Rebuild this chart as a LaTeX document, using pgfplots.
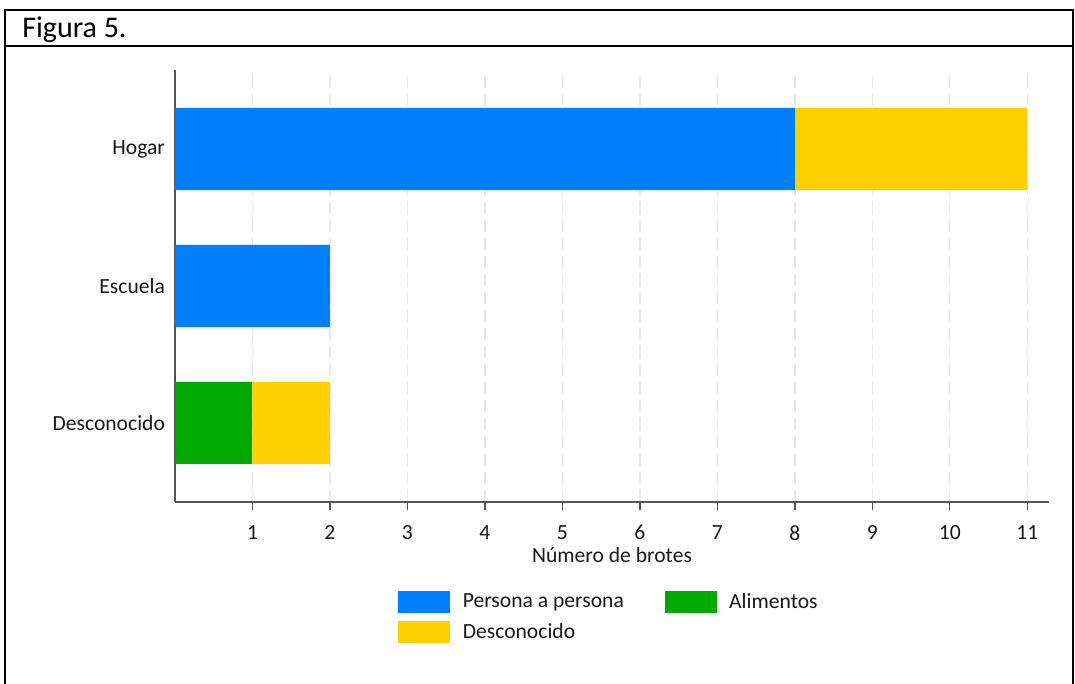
\documentclass[border=0pt]{standalone}
\usepackage{fontspec}
\setmainfont{Carlito}
\usepackage{pgfplots}
\pgfplotsset{compat=1.18}

\definecolor{cblue}{RGB}{0,128,255}
\definecolor{cyellow}{RGB}{255,208,0}
\definecolor{cgreen}{RGB}{0,170,0}
\definecolor{axisgray}{RGB}{85,85,85}

\newcommand{\lbl}{\fontsize{16.2}{19}\selectfont}

\begin{document}
\begin{tikzpicture}
\begin{scope}[x=0.75pt,y=-0.75pt]
\useasboundingbox (0,0) rectangle (1075,684);
% frame
\draw[line width=1.5pt] (5,684) -- (5,10) -- (1073,10) -- (1073,684);
\draw[line width=1.5pt] (5,46) -- (1073,46);
\node[anchor=base west, inner sep=0pt, font=\fontsize{22.5}{26}\selectfont] at (22,38) {Figura 5.};
\end{scope}

\begin{axis}[
    at={(131.25pt,-376.5pt)}, anchor=south west,
    scale only axis,
    width=655.5pt, height=324pt,
    xbar stacked,
    bar width=0.6,
    xmin=0, xmax=11.28,
    ymin=-0.577, ymax=2.577,
    xtick={1,2,3,4,5,6,7,8,9,10,11},
    ytick={0,1,2},
    yticklabels={Desconocido,Escuela,Hogar},
    axis x line*=bottom,
    axis y line*=left,
    axis line style={-, draw=axisgray, line width=1pt},
    x tick style={draw=axisgray, line width=1pt},
    y tick style={draw=none},
    tick align=outside,
    major tick length=6pt,
    xmajorgrids,
    grid style={draw=black!9, line width=1pt, dash pattern=on 9pt off 4.5pt},
    /pgf/number format/assume math mode=true,
    ticklabel style={font=\lbl, text=black!90},
    xticklabel style={yshift=-8pt},
    yticklabel style={xshift=2pt},
    xlabel={Número de brotes},
    xlabel style={font=\lbl, text=black!90, yshift=1.5pt},
    legend columns=2,
    legend cell align=left,
    legend style={draw=none, at={(0.255,-0.204)}, anchor=north west,
        inner sep=0pt, font=\lbl, text=black!90,
        /tikz/every odd column/.append style={column sep=7.5pt},
        /tikz/every even column/.append style={column sep=28.5pt},
        /tikz/row sep=6pt},
    legend image code/.code={\fill[#1] (0pt,-8.25pt) rectangle (39pt,8.25pt);},
]
\addplot[fill=cblue, draw=none] coordinates {(0,0) (2,1) (8,2)};
\addlegendentry{Persona a persona}
\addplot[fill=cgreen, draw=none] coordinates {(1,0) (0,1) (0,2)};
\addlegendentry{Alimentos}
\addplot[fill=cyellow, draw=none] coordinates {(1,0) (0,1) (3,2)};
\addlegendentry{Desconocido}
\end{axis}
\end{tikzpicture}
\end{document}
